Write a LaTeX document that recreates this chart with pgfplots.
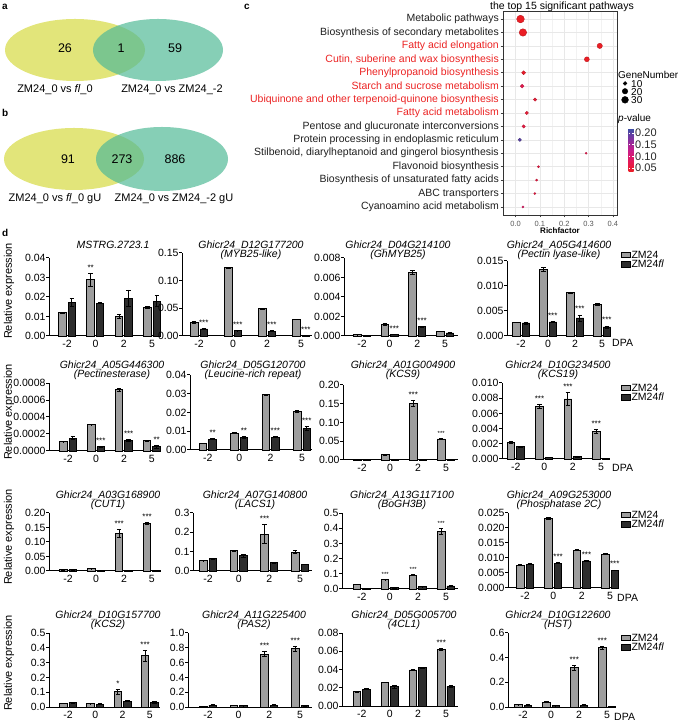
\documentclass[border=0pt]{standalone}
\usepackage{pgfplots}
\pgfplotsset{compat=1.18}
\usepackage{fontspec}
\setmainfont{Liberation Sans}

\definecolor{zmg}{RGB}{158,158,158}
\definecolor{zmd}{RGB}{45,45,45}
\definecolor{vyel}{RGB}{226,229,122}
\definecolor{vgrn}{RGB}{82,186,151}
\definecolor{cred}{RGB}{235,35,35}

\pgfplotsset{
  bp/.style={
    scale only axis, anchor=south west,
    axis x line*=bottom, axis y line*=left,
    axis line style={line width=1pt, black, -},
    ybar=2pt, bar width=7.5pt,
    ymin=0, enlargelimits=false, clip=false,
    xtick={0,1,2,3}, xticklabels={-2,0,2,5},
    x tick style={draw=none},
    y tick style={line width=1pt, black},
    tick align=outside, major tick length=3pt,
    tick label style={font=\fontsize{10.5}{10.5}\selectfont},
    xticklabel style={yshift=2.5pt},
    yticklabel style={xshift=3pt, /pgf/number format/fixed, /pgf/number format/fixed zerofill},
    scaled y ticks=false,
    /pgf/number format/assume math mode=true,
    error bars/y dir=both, error bars/y explicit,
    error bars/error bar style={line width=0.9pt, black},
    error bars/error mark options={rotate=90, mark size=2.2pt, line width=0.9pt, black},
    legend cell align=left,
    legend image code/.code={\draw[##1, line width=0.8pt] (0pt,-2.8pt) rectangle (9pt,2.8pt);},
  },
  yprec/.style={yticklabel style={/pgf/number format/precision=#1}},
  lg/.style={legend style={at={(1,1)}, anchor=north west, draw=none, fill=none,
    inner sep=0pt, row sep=1pt, font=\fontsize{10.5}{10.5}\selectfont,
    nodes={inner sep=0.5pt, text height=7pt, text depth=0.5pt}}},
  zg/.style={fill=zmg, draw=black, line width=0.9pt},
  zd/.style={fill=zmd, draw=black, line width=0.9pt},
}
\tikzset{
  st/.style={font=\fontsize{8}{8}\selectfont, anchor=base, yshift=3pt, inner sep=0pt},
  sg/.style={st, xshift=-4.75pt},
  sd/.style={st, xshift=4.75pt},
  gt/.style={anchor=base, font=\itshape\fontsize{10.5}{10.5}\selectfont, inner sep=0pt},
  yl/.style={rotate=90, font=\fontsize{11}{11}\selectfont},
  dpa/.style={anchor=west, font=\fontsize{10.5}{10.5}\selectfont, inner sep=0pt},
}
\newcommand\ttl[4]{\node[gt] at (#1pt,#2pt+0.5pt) {#3}; \node[gt] at (#1pt,#2pt-8.5pt) {#4};}

\begin{document}
\begin{tikzpicture}
\useasboundingbox (0,0) rectangle (685pt,725pt);

% ---- a / b: Venn diagrams
\node[font=\bfseries\fontsize{10}{10}\selectfont, anchor=base west, inner sep=0pt] at (2pt,715pt) {a};
\fill[vyel] (75pt,675pt) ellipse [x radius=70pt, y radius=31pt];
\fill[vgrn, opacity=0.7] (158pt,675pt) ellipse [x radius=65pt, y radius=31pt];
\begin{scope}[font=\fontsize{12.5}{12.5}\selectfont]
\node at (65pt,677pt) {26};
\node at (121pt,677pt) {1};
\node at (175pt,677pt) {59};
\end{scope}
\begin{scope}[font=\fontsize{11}{11}\selectfont]
\node at (55pt,635pt) {ZM24\_0 vs \textit{fl}\_0};
\node at (172pt,635pt) {ZM24\_0 vs ZM24\_-2};
\end{scope}

\node[font=\bfseries\fontsize{10}{10}\selectfont, anchor=base west, inner sep=0pt] at (2pt,608pt) {b};
\fill[vyel] (74pt,566pt) ellipse [x radius=70pt, y radius=31pt];
\fill[vgrn, opacity=0.7] (162pt,566pt) ellipse [x radius=66pt, y radius=32pt];
\begin{scope}[font=\fontsize{12.5}{12.5}\selectfont]
\node at (68pt,566pt) {91};
\node at (122pt,566pt) {273};
\node at (175pt,566pt) {886};
\end{scope}
\begin{scope}[font=\fontsize{11}{11}\selectfont]
\node at (55pt,526pt) {ZM24\_0 vs \textit{fl}\_0 gU};
\node at (174pt,526pt) {ZM24\_0 vs ZM24\_-2 gU};
\end{scope}

% ---- c: KEGG bubble chart
\node[font=\bfseries\fontsize{10}{10}\selectfont, anchor=base west, inner sep=0pt] at (244pt,715pt) {c};
\node[anchor=base, font=\fontsize{10.5}{10.5}\selectfont, inner sep=0pt] at (562pt,715pt) {the top 15 significant pathways};
\begin{axis}[
    scale only axis, anchor=south west, at={(503pt,510pt)},
    width=114pt, height=204pt,
    xmin=-0.052, xmax=0.417, ymin=0.4, ymax=15.6,
    xtick={0,0.1,0.2,0.3,0.4}, xticklabels={0.0,0.1,0.2,0.3,0.4},
    minor xtick={0.05,0.15,0.25,0.35},
    ytick={1,...,15},
    yticklabels={
      {Cyanoamino acid metabolism},
      {ABC transporters},
      {Biosynthesis of unsaturated fatty acids},
      {Flavonoid biosynthesis},
      {Stilbenoid, diarylheptanoid and gingerol biosynthesis},
      {Protein processing in endoplasmic reticulum},
      {Pentose and glucuronate interconversions},
      {\textcolor{cred}{Fatty acid metabolism}},
      {\textcolor{cred}{Ubiquinone and other terpenoid-quinone biosynthesis}},
      {\textcolor{cred}{Starch and sucrose metabolism}},
      {\textcolor{cred}{Phenylpropanoid biosynthesis}},
      {\textcolor{cred}{Cutin, suberine and wax biosynthesis}},
      {\textcolor{cred}{Fatty acid elongation}},
      {Biosynthesis of secondary metabolites},
      {Metabolic pathways}},
    xtick pos=bottom, ytick pos=left,
    tick align=outside, major tick length=2.5pt, minor tick length=0pt,
    tick style={black!75, line width=0.5pt},
    grid=both, major grid style={black!9, line width=0.6pt},
    minor grid style={black!5, line width=0.4pt},
    axis line style={black!80, line width=0.7pt},
    xticklabel style={font=\fontsize{7.5}{7.5}\selectfont, text=black!65},
    yticklabel style={font=\fontsize{10.5}{10.5}\selectfont, text=black!88, inner xsep=1.5pt},
    clip=false,
    colormap={pval}{rgb255=(235,30,35) rgb255=(228,25,90) rgb255=(200,30,140) rgb255=(130,50,160) rgb255=(55,80,165)},
    point meta min=0.033, point meta max=0.221,
    colorbar,
    colorbar style={scale only axis, width=5pt, height=44pt,
      at={(parent axis.south east)}, anchor=south west, xshift=3pt, yshift=43pt,
      axis line style={draw=none},
      ytick={0.05,0.1,0.15,0.2}, yticklabels={0.05,0.10,0.15,0.20},
      major tick length=1.5pt, tick style={white, line width=0.4pt},
      yticklabel style={font=\fontsize{11}{11}\selectfont, text=black!85, inner xsep=1.5pt}},
  ]
  \addplot[scatter, only marks, mark=*, point meta=explicit,
    visualization depends on={0.62*sqrt(\thisrow{n}) \as \msz},
    scatter/@pre marker code/.append style={/tikz/mark size=\msz}]
    table[x=rf, y=pos, meta=p] {
    rf    pos n  p
    0.020 15  38 0.035
    0.030 14  36 0.035
    0.346 13  18 0.035
    0.293 12  16 0.035
    0.033 11  10 0.040
    0.027 10   9 0.070
    0.080  9   7 0.050
    0.046  8   7 0.050
    0.033  7   7 0.060
    0.017  6   7 0.200
    0.290  5   3 0.070
    0.094  4   3 0.060
    0.086  3   3 0.060
    0.079  2   3 0.060
    0.030  1   3 0.090
  };
  % GeneNumber size key
  \addplot[only marks, mark=*, black, mark size=1.96pt, forget plot] coordinates {(0.4500,10.20)};
  \addplot[only marks, mark=*, black, mark size=2.77pt, forget plot] coordinates {(0.4500,9.62)};
  \addplot[only marks, mark=*, black, mark size=3.40pt, forget plot] coordinates {(0.4500,8.98)};
\end{axis}
\begin{scope}[font=\fontsize{10}{10}\selectfont]
\node[anchor=west, inner sep=0pt] at (618pt,650pt) {GeneNumber};
\node[anchor=north west, inner sep=0pt, align=left, font=\fontsize{10}{8}\selectfont] at (631pt,645pt) {10\\20\\30};
\node[anchor=west, inner sep=0pt] at (618pt,606pt) {\textit{p}-value};
\end{scope}
\node[font=\bfseries\fontsize{8}{8}\selectfont] at (560pt,494.5pt) {Richfactor};

% ---- d: qRT-PCR bar panels
\node[font=\bfseries\fontsize{10}{10}\selectfont, anchor=base west, inner sep=0pt] at (2pt,488pt) {d};
\node[yl] at (9pt,434pt) {Relative expression};
\node[yl] at (9pt,313pt) {Relative expression};
\node[yl] at (9pt,188pt) {Relative expression};
\node[yl] at (9pt,62pt) {Relative expression};

% row 1
\node[gt] at (113pt,476pt) {MSTRG.2723.1};
\begin{axis}[bp, at={(49pt,389pt)}, width=111pt, height=78pt, xmin=-0.64, xmax=3.28,
  ymax=0.04, ytick={0,0.01,0.02,0.03,0.04}, yprec=2]
  \addplot[zg] coordinates {(0,0.0120) +- (0,0.0003) (1,0.0288) +- (0,0.0033) (2,0.0100) +- (0,0.0010) (3,0.0146) +- (0,0.0007)};
  \addplot[zd] coordinates {(0,0.0172) +- (0,0.0020) (1,0.0168) +- (0,0.0003) (2,0.0194) +- (0,0.0042) (3,0.0179) +- (0,0.0030)};
  \node[sg] at (axis cs:1,0.0321) {**};
\end{axis}

\ttl{251}{476}{Ghicr24\_D12G177200}{(MYB25-like)}
\begin{axis}[bp, at={(182pt,389pt)}, width=130pt, height=83pt, xmin=-0.5, xmax=3.32,
  ymax=0.15, ytick={0,0.05,0.1,0.15}, yprec=2]
  \addplot[zg] coordinates {(0,0.0248) +- (0,0.0015) (1,0.1234) +- (0,0.0010) (2,0.0490) +- (0,0.0005) (3,0.0300) +- (0,0.0005)};
  \addplot[zd] coordinates {(0,0.0127) +- (0,0.0010) (1,0.0097) +- (0,0.0003) (2,0.0090) +- (0,0.0003) (3,0.0012) +- (0,0.0003)};
  \node[sd] at (axis cs:0,0.0137) {***};
  \node[sd] at (axis cs:1,0.0100) {***};
  \node[sd] at (axis cs:2,0.0093) {***};
  \node[sd] at (axis cs:3,0.0015) {***};
\end{axis}

\ttl{398}{476}{Ghicr24\_D04G214100}{(GhMYB25)}
\begin{axis}[bp, at={(344pt,389pt)}, width=114pt, height=78pt, xmin=-0.65, xmax=3.47,
  ymax=0.008, ytick={0,0.002,0.004,0.006,0.008}, yprec=3]
  \addplot[zg] coordinates {(0,0.00014) +- (0,0.00001) (1,0.00114) +- (0,0.00010) (2,0.00655) +- (0,0.00020) (3,0.00048) +- (0,0.00002)};
  \addplot[zd] coordinates {(0,0.00007) +- (0,0.00001) (1,0.00017) +- (0,0.00002) (2,0.00094) +- (0,0.00005) (3,0.00031) +- (0,0.00002)};
  \node[sd] at (axis cs:1,0.00019) {***};
  \node[sd] at (axis cs:2,0.00099) {***};
\end{axis}

\ttl{559}{476}{Ghicr24\_A05G414600}{(Pectin lyase-like)}
\begin{axis}[bp, lg, at={(507pt,389pt)}, width=101pt, height=75pt, xmin=-0.52, xmax=3.22,
  ymax=0.015, ytick={0,0.005,0.01,0.015}, yprec=3,
  legend style={xshift=13pt, yshift=10.5pt}]
  \addplot[zg] coordinates {(0,0.0027) +- (0,0.00005) (1,0.0133) +- (0,0.0004) (2,0.0087) +- (0,0.0001) (3,0.0063) +- (0,0.0002)};
  \addplot[zd] coordinates {(0,0.0026) +- (0,0.0002) (1,0.0028) +- (0,0.0001) (2,0.0036) +- (0,0.0006) (3,0.0018) +- (0,0.0002)};
  \addlegendentry{ZM24}
  \addlegendentry{ZM24\textit{fl}}
  \node[sd] at (axis cs:1,0.0029) {***};
  \node[sd] at (axis cs:2,0.0042) {***};
  \node[sd] at (axis cs:3,0.0020) {***};
\end{axis}
\node[dpa] at (612pt,382pt) {DPA};

% row 2
\ttl{112}{356}{Ghicr24\_A05G446300}{(Pectinesterase)}
\begin{axis}[bp, at={(49pt,274pt)}, width=111pt, height=68pt, xmin=-0.68, xmax=3.29,
  ymax=0.0008, ytick={0,0.0002,0.0004,0.0006,0.0008}, yprec=4]
  \addplot[zg] coordinates {(0,0.00011) +- (0,0.000003) (1,0.00031) +- (0,0.000003) (2,0.00072) +- (0,0.00002) (3,0.00012) +- (0,0.000003)};
  \addplot[zd] coordinates {(0,0.00015) +- (0,0.00002) (1,0.00005) +- (0,0.000003) (2,0.00012) +- (0,0.00001) (3,0.00005) +- (0,0.00002)};
  \node[sd] at (axis cs:1,0.000053) {***};
  \node[sd] at (axis cs:2,0.00013) {***};
  \node[sd] at (axis cs:3,0.00007) {**};
\end{axis}

\ttl{253}{356}{Ghicr24\_D05G120700}{(Leucine-rich repeat)}
\begin{axis}[bp, at={(190pt,275pt)}, width=122pt, height=75pt, xmin=-0.57, xmax=3.32,
  ymax=0.04, ytick={0,0.01,0.02,0.03,0.04}, yprec=2]
  \addplot[zg] coordinates {(0,0.0035) +- (0,0.0002) (1,0.0090) +- (0,0.0002) (2,0.0295) +- (0,0.0002) (3,0.0205) +- (0,0.0004)};
  \addplot[zd] coordinates {(0,0.0058) +- (0,0.0002) (1,0.0067) +- (0,0.0006) (2,0.0068) +- (0,0.0002) (3,0.0115) +- (0,0.0009)};
  \node[sd] at (axis cs:0,0.0060) {**};
  \node[sd] at (axis cs:1,0.0073) {**};
  \node[sd] at (axis cs:2,0.0070) {***};
  \node[sd] at (axis cs:3,0.0124) {***};
\end{axis}

\ttl{403}{356}{Ghicr24\_A01G004900}{(KCS9)}
\begin{axis}[bp, at={(343pt,265pt)}, width=115pt, height=75pt, xmin=-0.68, xmax=3.43,
  ymax=0.2, ytick={0,0.05,0.1,0.15,0.2}, yprec=2]
  \addplot[zg] coordinates {(0,0.0012) +- (0,0.0002) (1,0.0135) +- (0,0.0003) (2,0.151) +- (0,0.007) (3,0.056) +- (0,0.001)};
  \addplot[zd] coordinates {(0,0.0012) +- (0,0.0002) (1,0.0018) +- (0,0.0002) (2,0.0012) +- (0,0.0002) (3,0.0010) +- (0,0.0002)};
  \node[sg] at (axis cs:2,0.158) {***};
  \node[sg, font=\fontsize{6}{6}\selectfont] at (axis cs:3,0.057) {***};
\end{axis}

\ttl{558}{356}{Ghicr24\_D10G234500}{(KCS19)}
\begin{axis}[bp, lg, at={(502pt,266pt)}, width=105pt, height=76pt, xmin=-0.49, xmax=3.21,
  ymax=0.01, ytick={0,0.002,0.004,0.006,0.008,0.01}, yprec=3,
  legend style={xshift=14pt, yshift=-0.5pt}]
  \addplot[zg] coordinates {(0,0.0022) +- (0,0.0001) (1,0.0069) +- (0,0.0003) (2,0.0079) +- (0,0.0008) (3,0.0036) +- (0,0.0003)};
  \addplot[zd] coordinates {(0,0.0016) +- (0,0.0001) (1,0.0002) +- (0,0.00005) (2,0.0003) +- (0,0.0001) (3,0.0001) +- (0,0.00003)};
  \addlegendentry{ZM24}
  \addlegendentry{ZM24\textit{fl}}
  \node[sg] at (axis cs:1,0.0072) {***};
  \node[sg] at (axis cs:2,0.0087) {***};
  \node[sg] at (axis cs:3,0.0039) {***};
\end{axis}
\node[dpa] at (612pt,257pt) {DPA};

% row 3
\ttl{108}{226}{Ghicr24\_A03G168900}{(CUT1)}
\begin{axis}[bp, at={(49pt,154pt)}, width=111pt, height=58pt, xmin=-0.68, xmax=3.29,
  ymax=0.2, ytick={0,0.05,0.1,0.15,0.2}, yprec=2]
  \addplot[zg] coordinates {(0,0.004) +- (0,0.0005) (1,0.008) +- (0,0.0005) (2,0.130) +- (0,0.013) (3,0.165) +- (0,0.003)};
  \addplot[zd] coordinates {(0,0.004) +- (0,0.0005) (1,0.001) +- (0,0.0002) (2,0.001) +- (0,0.0002) (3,0.002) +- (0,0.0003)};
  \node[sg] at (axis cs:2,0.143) {***};
  \node[sg] at (axis cs:3,0.168) {***};
\end{axis}

\ttl{255}{226}{Ghicr24\_A07G140800}{(LACS1)}
\begin{axis}[bp, at={(193pt,154pt)}, width=119pt, height=58pt, xmin=-0.49, xmax=3.39,
  ymax=0.3, ytick={0,0.1,0.2,0.3}, yprec=1]
  \addplot[zg] coordinates {(0,0.054) +- (0,0.002) (1,0.104) +- (0,0.003) (2,0.190) +- (0,0.050) (3,0.097) +- (0,0.007)};
  \addplot[zd] coordinates {(0,0.064) +- (0,0.003) (1,0.078) +- (0,0.006) (2,0.043) +- (0,0.003) (3,0.034) +- (0,0.002)};
  \node[sg] at (axis cs:2,0.240) {***};
\end{axis}

\ttl{402}{226}{Ghicr24\_A13G117100}{(BoGH3B)}
\begin{axis}[bp, at={(342pt,136pt)}, width=116pt, height=76pt, xmin=-0.71, xmax=3.43,
  ymax=0.5, ytick={0,0.1,0.2,0.3,0.4,0.5}, yprec=1]
  \addplot[zg] coordinates {(0,0.030) +- (0,0.001) (1,0.062) +- (0,0.002) (2,0.091) +- (0,0.003) (3,0.380) +- (0,0.020)};
  \addplot[zd] coordinates {(0,0.003) +- (0,0.0005) (1,0.007) +- (0,0.001) (2,0.016) +- (0,0.002) (3,0.020) +- (0,0.002)};
  \node[sg, font=\fontsize{6}{6}\selectfont] at (axis cs:1,0.064) {***};
  \node[sg, font=\fontsize{6}{6}\selectfont] at (axis cs:2,0.094) {***};
  \node[sg, font=\fontsize{6}{6}\selectfont] at (axis cs:3,0.400) {***};
\end{axis}

\ttl{559}{226}{Ghicr24\_A09G253000}{(Phosphatase 2C)}
\begin{axis}[bp, lg, at={(508pt,137pt)}, width=108pt, height=75pt, xmin=-0.6, xmax=3.21,
  ymax=0.025, ytick={0,0.005,0.01,0.015,0.02,0.025}, yprec=3,
  legend style={xshift=5pt, yshift=2.5pt}]
  \addplot[zg] coordinates {(0,0.0076) +- (0,0.0002) (1,0.0232) +- (0,0.0003) (2,0.0126) +- (0,0.0002) (3,0.0113) +- (0,0.0001)};
  \addplot[zd] coordinates {(0,0.0079) +- (0,0.0002) (1,0.0083) +- (0,0.0002) (2,0.0090) +- (0,0.0001) (3,0.0059) +- (0,0.0001)};
  \addlegendentry{ZM24}
  \addlegendentry{ZM24\textit{fl}}
  \node[sd] at (axis cs:1,0.0085) {***};
  \node[sd] at (axis cs:2,0.0091) {***};
  \node[sd] at (axis cs:3,0.0060) {***};
\end{axis}
\node[dpa] at (617pt,127pt) {DPA};

% row 4
\ttl{108}{106}{Ghicr24\_D10G157700}{(KCS2)}
\begin{axis}[bp, at={(49pt,18pt)}, width=111pt, height=74pt, xmin=-0.70, xmax=3.37,
  ymax=0.5, ytick={0,0.1,0.2,0.3,0.4,0.5}, yprec=1]
  \addplot[zg] coordinates {(0,0.024) +- (0,0.001) (1,0.022) +- (0,0.001) (2,0.102) +- (0,0.015) (3,0.345) +- (0,0.040)};
  \addplot[zd] coordinates {(0,0.028) +- (0,0.003) (1,0.019) +- (0,0.002) (2,0.040) +- (0,0.005) (3,0.032) +- (0,0.005)};
  \node[sg] at (axis cs:2,0.117) {*};
  \node[sg] at (axis cs:3,0.385) {***};
\end{axis}

\ttl{254}{106}{Ghicr24\_A11G225400}{(PAS2)}
\begin{axis}[bp, at={(188pt,18pt)}, width=124pt, height=74pt, xmin=-0.65, xmax=3.39,
  ymax=1, ytick={0,0.2,0.4,0.6,0.8,1}, yprec=1]
  \addplot[zg] coordinates {(0,0.005) +- (0,0.001) (1,0.025) +- (0,0.002) (2,0.715) +- (0,0.035) (3,0.785) +- (0,0.035)};
  \addplot[zd] coordinates {(0,0.025) +- (0,0.003) (1,0.020) +- (0,0.002) (2,0.025) +- (0,0.003) (3,0.015) +- (0,0.002)};
  \node[sg] at (axis cs:2,0.750) {***};
  \node[sg] at (axis cs:3,0.820) {***};
\end{axis}

\ttl{404}{106}{Ghicr24\_D05G005700}{(4CL1)}
\begin{axis}[bp, at={(342pt,19pt)}, width=116pt, height=73pt, xmin=-0.71, xmax=3.43,
  ymax=0.08, ytick={0,0.02,0.04,0.06,0.08}, yprec=2]
  \addplot[zg] coordinates {(0,0.0155) +- (0,0.0003) (1,0.0260) +- (0,0.0003) (2,0.0395) +- (0,0.0004) (3,0.0620) +- (0,0.0015)};
  \addplot[zd] coordinates {(0,0.0185) +- (0,0.0003) (1,0.0210) +- (0,0.0020) (2,0.0420) +- (0,0.0005) (3,0.0215) +- (0,0.0010)};
  \node[sg] at (axis cs:3,0.0635) {***};
\end{axis}

\ttl{558}{106}{Ghicr24\_D10G122600}{(HST)}
\begin{axis}[bp, lg, at={(508pt,18pt)}, width=104pt, height=74pt, xmin=-0.54, xmax=3.18,
  ymax=0.6, ytick={0,0.2,0.4,0.6}, yprec=1,
  legend style={xshift=9pt, yshift=-0.5pt}]
  \addplot[zg] coordinates {(0,0.018) +- (0,0.001) (1,0.040) +- (0,0.001) (2,0.320) +- (0,0.020) (3,0.480) +- (0,0.010)};
  \addplot[zd] coordinates {(0,0.016) +- (0,0.001) (1,0.010) +- (0,0.001) (2,0.015) +- (0,0.002) (3,0.005) +- (0,0.001)};
  \addlegendentry{ZM24}
  \addlegendentry{ZM24\textit{fl}}
  \node[sg] at (axis cs:2,0.340) {***};
  \node[sg] at (axis cs:3,0.490) {***};
\end{axis}
\node[dpa] at (614pt,8pt) {DPA};

\end{tikzpicture}
\end{document}
